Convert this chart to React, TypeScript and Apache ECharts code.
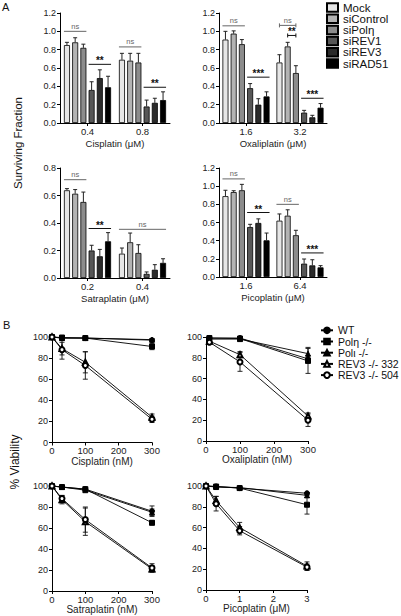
import React, { useEffect, useRef } from 'react';
import * as echarts from 'echarts';

// ---------- Panel A data (surviving fraction) ----------
const siRNAs = ['Mock', 'siControl', 'siPolη', 'siREV1', 'siREV3', 'siRAD51'];
const barColors = ['#e6e6e6', '#b3b3b3', '#8c8c8c', '#575757', '#2b2b2b', '#000000'];

const cisLabels = ['0.4', '0.8'];
const cis04Mean = [0.85, 0.88, 0.82, 0.36, 0.49, 0.39];
const cis04Err = [0.03, 0.05, 0.04, 0.09, 0.09, 0.12];
const cis08Mean = [0.69, 0.68, 0.66, 0.18, 0.22, 0.25];
const cis08Err = [0.07, 0.08, 0.1, 0.07, 0.05, 0.09];
const cisSig = [[0, 0, 2, 1.0, 0], [0, 3, 5, 0.64, 0], [1, 0, 2, 0.83, 0], [1, 3, 5, 0.39, 0]];
const cisSigText = ['ns', '**', 'ns', '**'];

const oxaLabels = ['1.6', '3.2'];
const oxa16Mean = [0.91, 0.975, 0.86, 0.38, 0.2, 0.29];
const oxa16Err = [0.09, 0.03, 0.05, 0.05, 0.065, 0.05];
const oxa32Mean = [0.66, 0.835, 0.545, 0.113, 0.062, 0.167];
const oxa32Err = [0.085, 0.045, 0.08, 0.025, 0.022, 0.045];
const oxaSig = [[0, 0, 2, 1.06, 0], [0, 3, 5, 0.5, 0], [1, 0, 2, 1.065, 1], [1, 1, 2, 0.955, 1], [1, 3, 5, 0.27, 0]];
const oxaSigText = ['ns', '***', 'ns', '**', '***'];

const satLabels = ['0.2', '0.4'];
const sat02Mean = [0.638, 0.613, 0.553, 0.2, 0.158, 0.267];
const sat02Err = [0.012, 0.03, 0.072, 0.038, 0.05, 0.063];
const sat04Mean = [0.177, 0.26, 0.182, 0.03, 0.06, 0.11];
const sat04Err = [0.041, 0.067, 0.06, 0.014, 0.037, 0.03];
const satSig = [[0, 0, 2, 0.715, 0], [0, 3, 5, 0.36, 0], [1, 0, 5, 0.354, 0]];
const satSigText = ['ns', '**', 'ns'];

const picLabels = ['1.6', '6.4'];
const pic16Mean = [0.89, 0.935, 0.955, 0.55, 0.595, 0.404];
const pic16Err = [0.065, 0.015, 0.065, 0.03, 0.045, 0.08];
const pic64Mean = [0.62, 0.675, 0.46, 0.147, 0.128, 0.106];
const pic64Err = [0.074, 0.065, 0.054, 0.051, 0.062, 0.019];
const picSig = [[0, 0, 2, 1.08, 0], [0, 3, 5, 0.71, 0], [1, 0, 2, 0.8, 0], [1, 3, 5, 0.265, 0]];
const picSigText = ['ns', '**', 'ns', '***'];

// ---------- Panel B data (% viability) ----------
const cellLines = ['WT', 'Polη -/-', 'Polι -/-', 'REV3 -/- 332', 'REV3 -/- 504'];
const cellSymbols = ['circle', 'rect', 'triangle', 'emptyTriangle', 'emptyCircle'];

const bCisDoses = [0, 30, 100, 300];
const bCisMeans = [[100, 99, 99, 97], [100, 99.5, 99, 91], [100, 99, 99, 97.5], [100, 89, 76, 24], [100, 88, 73, 22]];
const bCisErrs = [[0, 1, 1, 1.5], [0, 1, 1, 3], [0, 1, 1, 1], [0, 6, 10, 3], [0, 9, 13, 3]];

const bOxaDoses = [10, 100, 300];
const bOxaMeans = [[99, 99, 79], [99, 98.5, 77], [98, 98, 84], [96, 83, 24], [95, 76, 20]];
const bOxaErrs = [[1, 1, 3], [1, 1, 12], [1, 1, 6], [1, 3, 3], [1, 9, 6]];

const bSatDoses = [0, 30, 100, 300];
const bSatMeans = [[100, 99, 97, 76], [100, 99, 97, 65], [100, 99, 96, 75], [100, 87, 66, 21], [100, 88, 68, 22]];
const bSatErrs = [[0, 1, 1, 5], [0, 1, 1, 2], [0, 1, 1, 3], [0, 4, 13, 3], [0, 3, 12, 4]];

const bPicDoses = [0, 0.3, 1, 3];
const bPicMeans = [[100, 99.5, 98, 93], [100, 99.5, 98, 82], [100, 99, 98.5, 91], [100, 86, 60, 23], [100, 83, 57, 22]];
const bPicErrs = [[0, 1, 1, 1], [0, 1, 1, 9], [0, 1, 1, 2], [0, 4, 5, 4], [0, 7, 4, 3]];

const FONT = 'Liberation Sans, Arial, Helvetica, sans-serif';
const BAR_W = 6;
const BAR_GAP = 0.37;
const STEP = BAR_W * (1 + BAR_GAP);

export default function App() {
  const ref = useRef<HTMLDivElement>(null);

  useEffect(() => {
    if (!ref.current) return;
    const chart = echarts.init(ref.current, null, { renderer: 'svg' });

    const aPanels = [
      { cats: cisLabels, means: [cis04Mean, cis08Mean], errs: [cis04Err, cis08Err], sig: cisSig, sigText: cisSigText, name: 'Cisplatin (μM)', max: 1.2, grid: { left: 60, top: 13, width: 110, height: 110 } },
      { cats: oxaLabels, means: [oxa16Mean, oxa32Mean], errs: [oxa16Err, oxa32Err], sig: oxaSig, sigText: oxaSigText, name: 'Oxaliplatin (μM)', max: 1.2, grid: { left: 219, top: 13, width: 108, height: 110 } },
      { cats: satLabels, means: [sat02Mean, sat04Mean], errs: [sat02Err, sat04Err], sig: satSig, sigText: satSigText, name: 'Satraplatin (μM)', max: 0.8, grid: { left: 60, top: 168, width: 110, height: 110 } },
      { cats: picLabels, means: [pic16Mean, pic64Mean], errs: [pic16Err, pic64Err], sig: picSig, sigText: picSigText, name: 'Picoplatin (μM)', max: 1.2, grid: { left: 219, top: 168, width: 108, height: 109 } },
    ];
    const bPanels = [
      { doses: bCisDoses, means: bCisMeans, errs: bCisErrs, name: 'Cisplatin (nM)', xmax: 300, xint: 100, grid: { left: 52, top: 337, width: 100, height: 105.5 } },
      { doses: bOxaDoses, means: bOxaMeans, errs: bOxaErrs, name: 'Oxaliplatin (nM)', xmax: 300, xint: 100, grid: { left: 206, top: 337, width: 102, height: 104 } },
      { doses: bSatDoses, means: bSatMeans, errs: bSatErrs, name: 'Satraplatin (nM)', xmax: 300, xint: 100, grid: { left: 52, top: 486, width: 100, height: 105 } },
      { doses: bPicDoses, means: bPicMeans, errs: bPicErrs, name: 'Picoplatin (μM)', xmax: 3, xint: 1, grid: { left: 206, top: 486, width: 101, height: 104 } },
    ];

    const axisLine = { show: true, lineStyle: { color: '#000', width: 1 } };
    const axisTick = { show: true, length: 3, lineStyle: { color: '#000', width: 1 } };
    const labelStyle = { fontSize: 9, color: '#222', fontFamily: FONT };
    const nameStyle = { fontSize: 9.5, color: '#222', fontFamily: FONT };

    const grids: any[] = [];
    const xAxes: any[] = [];
    const yAxes: any[] = [];
    const series: any[] = [];

    aPanels.forEach((p, gi) => {
      grids.push({ ...p.grid, containLabel: false });
      xAxes.push({
        type: 'category', gridIndex: gi, data: p.cats,
        axisLine, axisTick: { ...axisTick, alignWithLabel: true },
        axisLabel: { ...labelStyle, fontSize: 9.5, margin: 3 },
        name: p.name, nameLocation: 'middle', nameGap: 15, nameTextStyle: nameStyle,
      });
      yAxes.push({
        type: 'value', gridIndex: gi, min: 0, max: p.max, interval: 0.2,
        axisLine, axisTick, splitLine: { show: false },
        axisLabel: { ...labelStyle, margin: 4, formatter: (v: number) => v.toFixed(1) },
      });
      siRNAs.forEach((nm, si) => {
        series.push({
          type: 'bar', name: nm, xAxisIndex: gi, yAxisIndex: gi,
          data: [p.means[0][si], p.means[1][si]],
          barWidth: BAR_W, barGap: `${BAR_GAP * 100}%`,
          itemStyle: { color: barColors[si], borderColor: '#000', borderWidth: 0.8 },
        });
      });
      const errData: number[][] = [];
      [0, 1].forEach((c) => siRNAs.forEach((_, si) => errData.push([c, si, p.means[c][si], p.errs[c][si]])));
      series.push({
        type: 'custom', xAxisIndex: gi, yAxisIndex: gi, encode: { x: 0, y: 2 }, data: errData, z: 1,
        renderItem: (params: any, api: any) => {
          const c = api.value(0), bi = api.value(1), m = api.value(2), e = api.value(3);
          const p0 = api.coord([c, m]);
          const p1 = api.coord([c, m + e]);
          const x = p0[0] + (bi - 2.5) * STEP;
          return {
            type: 'group', children: [
              { type: 'line', shape: { x1: x, y1: p0[1], x2: x, y2: p1[1] }, style: { stroke: '#222', lineWidth: 1 } },
              { type: 'line', shape: { x1: x - 2, y1: p1[1], x2: x + 2, y2: p1[1] }, style: { stroke: '#222', lineWidth: 1 } },
            ],
          };
        },
      });
      const txt = p.sigText;
      series.push({
        type: 'custom', xAxisIndex: gi, yAxisIndex: gi, encode: { x: 0, y: 3 }, data: p.sig, z: 3,
        renderItem: (params: any, api: any) => {
          const c = api.value(0), s = api.value(1), e = api.value(2), yv = api.value(3), br = api.value(4);
          const pc = api.coord([c, yv]);
          const t = txt[params.dataIndex];
          const ns = t === 'ns';
          const col = ns ? '#666' : '#111';
          const x1 = pc[0] + (s - 2.5) * STEP - (br ? 0 : 3);
          const x2 = pc[0] + (e - 2.5) * STEP + (br ? 0 : 3);
          const y = pc[1];
          const children: any[] = [
            { type: 'line', shape: { x1, y1: y, x2, y2: y }, style: { stroke: col, lineWidth: 1 } },
            {
              type: 'text', x: (x1 + x2) / 2, y: ns ? y - 1 : y + 1.5,
              style: { text: t, align: 'center', verticalAlign: 'bottom', fontSize: ns ? 7.5 : 10, fontWeight: ns ? 'normal' : 'bold', fontFamily: FONT, fill: col },
            },
          ];
          if (br) {
            children.push({ type: 'line', shape: { x1, y1: y - 2, x2: x1, y2: y + 2 }, style: { stroke: col, lineWidth: 1 } });
            children.push({ type: 'line', shape: { x1: x2, y1: y - 2, x2: x2, y2: y + 2 }, style: { stroke: col, lineWidth: 1 } });
          }
          return { type: 'group', children };
        },
      });
    });

    bPanels.forEach((p, bi) => {
      const gi = bi + 4;
      grids.push({ ...p.grid, containLabel: false });
      xAxes.push({
        type: 'value', gridIndex: gi, min: 0, max: p.xmax, interval: p.xint,
        axisLine, axisTick, splitLine: { show: false },
        axisLabel: { ...labelStyle, fontSize: 9.5, margin: 3 },
        name: p.name, nameLocation: 'middle', nameGap: 12, nameTextStyle: { ...nameStyle, fontSize: 10 },
      });
      yAxes.push({
        type: 'value', gridIndex: gi, min: 0, max: 100, interval: 20,
        axisLine, axisTick, splitLine: { show: false },
        axisLabel: { ...labelStyle, margin: 4 },
      });
      cellLines.forEach((nm, li) => {
        series.push({
          type: 'line', name: nm, xAxisIndex: gi, yAxisIndex: gi,
          data: p.doses.map((d, k) => [d, p.means[li][k]]),
          symbol: cellSymbols[li], symbolSize: 5, clip: false, z: 4,
          lineStyle: { color: '#000', width: 0.9 },
          itemStyle: { color: '#000', borderColor: '#000', borderWidth: 1 },
        });
      });
      const errData: number[][] = [];
      cellLines.forEach((_, li) => p.doses.forEach((d, k) => {
        if (p.errs[li][k] > 0) errData.push([d, p.means[li][k], p.errs[li][k]]);
      }));
      series.push({
        type: 'custom', xAxisIndex: gi, yAxisIndex: gi, encode: { x: 0, y: 1 }, data: errData, z: 3, clip: false,
        renderItem: (params: any, api: any) => {
          const x = api.value(0), m = api.value(1), e = api.value(2);
          const hi = api.coord([x, Math.min(m + e, 100)]);
          const lo = api.coord([x, m - e]);
          const st = { stroke: '#111', lineWidth: 0.9 };
          return {
            type: 'group', children: [
              { type: 'line', shape: { x1: hi[0], y1: hi[1], x2: lo[0], y2: lo[1] }, style: st },
              { type: 'line', shape: { x1: hi[0] - 2.5, y1: hi[1], x2: hi[0] + 2.5, y2: hi[1] }, style: st },
              { type: 'line', shape: { x1: lo[0] - 2.5, y1: lo[1], x2: lo[0] + 2.5, y2: lo[1] }, style: st },
            ],
          };
        },
      });
    });

    // one legend component per row, so the row pitch matches the reference exactly
    const legends: any[] = [];
    siRNAs.forEach((nm, i) => {
      legends.push({
        data: [nm], orient: 'vertical', left: 326, top: 6 + i * 11.2 - 4.5, padding: 0, icon: 'rect',
        itemWidth: 11, itemHeight: 8.5, selectedMode: false,
        textStyle: { fontSize: 11.5, color: '#111', fontFamily: FONT },
      });
    });
    cellLines.forEach((nm, i) => {
      legends.push({
        data: [nm], orient: 'vertical', left: 320, top: 329.3 + i * 11.2 - 4.5, padding: 0, selectedMode: false,
        itemWidth: 12, itemHeight: 7,
        textStyle: { fontSize: 10.5, color: '#111', fontFamily: FONT },
      });
    });

    const option: any = {
      animation: false,
      backgroundColor: '#fff',
      textStyle: { fontFamily: FONT },
      grid: grids,
      xAxis: xAxes,
      yAxis: yAxes,
      series,
      legend: legends,
      graphic: [
        { type: 'text', left: 2, top: 1, style: { text: 'A', fontSize: 11, fontFamily: FONT, fill: '#111' } },
        { type: 'text', left: 3, top: 319, style: { text: 'B', fontSize: 11, fontFamily: FONT, fill: '#111' } },
        { type: 'text', x: 18, y: 143, rotation: Math.PI / 2, style: { text: 'Surviving Fraction', align: 'center', verticalAlign: 'middle', fontSize: 11.5, fontFamily: FONT, fill: '#111' } },
        { type: 'text', x: 15, y: 462, rotation: Math.PI / 2, style: { text: '% Viability', align: 'center', verticalAlign: 'middle', fontSize: 12, fontFamily: FONT, fill: '#111' } },
      ],
    };

    chart.setOption(option);
    return () => chart.dispose();
  }, []);

  return <div ref={ref} style={{ position: 'absolute', left: 0, top: 0, width: 401, height: 616, background: '#fff' }} />;
}
